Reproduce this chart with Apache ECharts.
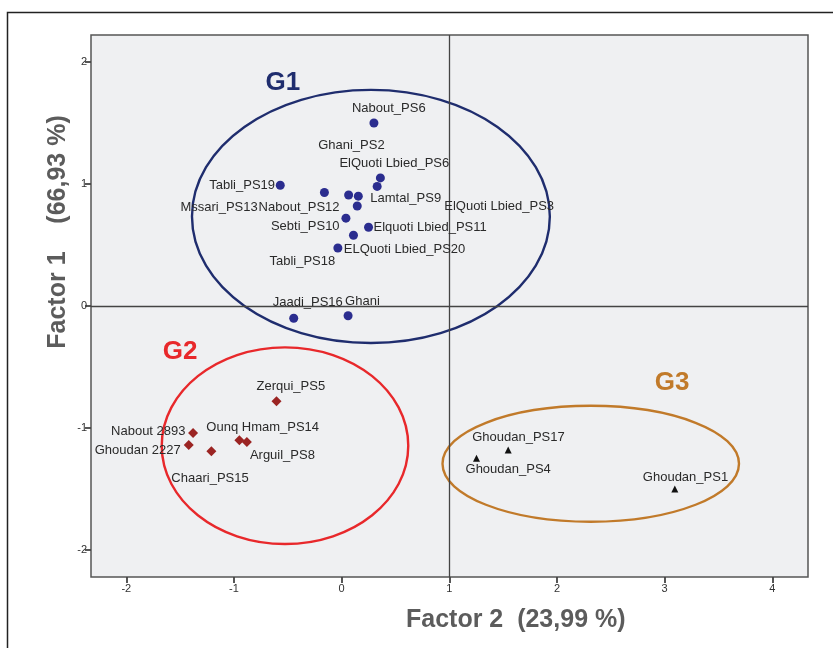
<!DOCTYPE html>
<html>
<head>
<meta charset="utf-8">
<script src="https://cdn.jsdelivr.net/npm/echarts@6/dist/echarts.min.js"></script>
<style>html,body{margin:0;padding:0;background:#fff;}#c{width:833px;height:648px;}</style>
</head>
<body>
<div id="c"></div>
<script>
// ---- data ----
const xTicks = [-2, -1, 0, 1, 2, 3, 4];
const yTicks = [-2, -1, 0, 1, 2];

const g1Names = ['Nabout_PS6','ElQuoti Lbied_PS6','Ghani_PS2','Tabli_PS19','Mssari_PS13','Nabout_PS12','Lamtal_PS9','ElQuoti Lbied_PS3','Sebti_PS10','Elquoti Lbied_PS11','Tabli_PS18','ELQuoti Lbied_PS20','Jaadi_PS16','Ghani'];
const g1X = [0.30, 0.36, 0.33, -0.57, -0.16, 0.065, 0.155, 0.145, 0.04, 0.25, 0.11, -0.035, -0.445, 0.06];
const g1Y = [1.50, 1.05, 0.98, 0.99, 0.93, 0.91, 0.90, 0.82, 0.72, 0.645, 0.58, 0.475, -0.10, -0.08];

const g2Names = ['Zerqui_PS5','Nabout 2893','Ghoudan 2227','Ounq Hmam_PS14','Arguil_PS8','Chaari_PS15'];
const g2X = [-0.605, -1.38, -1.42, -0.95, -0.88, -1.21];
const g2Y = [-0.78, -1.04, -1.14, -1.10, -1.115, -1.19];

const g3Names = ['Ghoudan_PS17','Ghoudan_PS4','Ghoudan_PS1'];
const g3X = [1.547, 1.253, 3.095];
const g3Y = [-1.18, -1.248, -1.50];

// group ellipses: centre x, centre y, radius x, radius y (data units)
const groupNames = ['G1', 'G2', 'G3'];
const ellCx = [0.272, -0.526, 2.314];
const ellCy = [0.734, -1.145, -1.293];
const ellRx = [1.662, 1.145, 1.377];
const ellRy = [1.037, 0.806, 0.475];
const groupLabelX = [-0.545, -1.50, 3.07];
const groupLabelY = [1.828, -0.377, -0.631];

// ---- label placement (pixel offsets of label's left/middle from the point) ----
const g1Off = [[-22,-15],[-41,-14],[-59,-41],[-71,0],[-144,15],[-90,12],[12,2],[87,0],[-75,8],[5,0],[-84,26],[6,1],[-21,-16],[-3,-14]];
const g2Off = [[-20,-15],[-82,-1],[-94,5],[-33,-13],[3,13],[-40,27]];
const g3Off = [[-36,-13],[-11,11],[-32,-12]];

const groupColors = ['#1f2d6e', '#e8282b', '#c17a2a'];
const pointColors = ['#2b2d8f', '#9b2423', '#111111'];

function mk(names, xs, ys, offs) {
  return names.map((n, i) => ({ name: n, value: [xs[i], ys[i]], label: { offset: offs[i] } }));
}

const labelBase = {
  show: true, formatter: '{b}', position: 'inside', align: 'left', verticalAlign: 'middle',
  fontSize: 13, color: '#2a2a2a', fontFamily: 'Liberation Sans, Arial, sans-serif'
};

const chart = echarts.init(document.getElementById('c'), null, { renderer: 'canvas' });

const option = {
  animation: false,
  backgroundColor: '#ffffff',
  grid: {
    left: 91, right: 25, top: 35, bottom: 71,
    show: true, backgroundColor: '#eff0f2', borderColor: '#555', borderWidth: 1.5
  },
  xAxis: {
    type: 'value', min: -2.328, max: 4.332,
    axisLine: { show: false, onZero: false },
    axisTick: { show: true, length: 6, lineStyle: { color: '#444', width: 1.8 }, customValues: xTicks },
    axisLabel: { color: '#333', fontSize: 11, margin: 6, fontFamily: 'Liberation Sans, Arial, sans-serif', customValues: xTicks },
    splitLine: { show: false }
  },
  yAxis: {
    type: 'value', min: -2.221, max: 2.221,
    axisLine: { show: false, onZero: false },
    axisTick: { show: true, length: 6, lineStyle: { color: '#444', width: 1.8 }, customValues: yTicks },
    axisLabel: { color: '#333', fontSize: 11, margin: 4, fontFamily: 'Liberation Sans, Arial, sans-serif', customValues: yTicks },
    splitLine: { show: false }
  },
  graphic: [
    { type: 'rect', left: 5, top: 10, shape: { x: 0, y: 0, width: 900, height: 700 },
      style: { fill: 'none', stroke: '#222', lineWidth: 1.5 }, silent: true, z: -10 },
    { type: 'text', x: 406, y: 620, style: { text: 'Factor 2  (23,99 %)', fill: '#5c5c5c',
      font: 'bold 25px "Liberation Sans", Arial, sans-serif', textAlign: 'left', textVerticalAlign: 'middle' } },
    { type: 'text', x: 58, y: 232, rotation: Math.PI / 2, style: { text: 'Factor 1    (66,93 %)', fill: '#5c5c5c',
      font: 'bold 25px "Liberation Sans", Arial, sans-serif', textAlign: 'center', textVerticalAlign: 'middle' } }
  ],
  series: [
    {
      type: 'custom', name: 'ellipses', silent: true, z: 3,
      data: groupNames.map((g, i) => [ellCx[i], ellCy[i], ellRx[i], ellRy[i], i]),
      encode: { x: 0, y: 1 },
      renderItem: function (params, api) {
        const c = api.coord([api.value(0), api.value(1)]);
        const s = api.size([api.value(2), api.value(3)]);
        const idx = api.value(4);
        return { type: 'ellipse', shape: { cx: c[0], cy: c[1], rx: s[0], ry: s[1] },
          style: { fill: 'none', stroke: groupColors[idx], lineWidth: 2.4 } };
      }
    },
    {
      type: 'custom', name: 'groupLabels', silent: true, z: 4,
      data: groupNames.map((g, i) => [groupLabelX[i], groupLabelY[i], i]),
      encode: { x: 0, y: 1 },
      renderItem: function (params, api) {
        const c = api.coord([api.value(0), api.value(1)]);
        const idx = api.value(2);
        return { type: 'text', x: c[0], y: c[1], style: { text: groupNames[idx], fill: groupColors[idx],
          font: 'bold 26px "Liberation Sans", Arial, sans-serif', textAlign: 'center', textVerticalAlign: 'middle' } };
      }
    },
    {
      type: 'scatter', name: 'G1', symbol: 'circle', symbolSize: 9, z: 5,
      itemStyle: { color: pointColors[0], opacity: 1 }, label: labelBase,
      data: mk(g1Names, g1X, g1Y, g1Off),
      markLine: {
        silent: true, symbol: ['none', 'none'], label: { show: false },
        lineStyle: { color: '#444', width: 1.3, type: 'solid' },
        data: [{ xAxis: 1 }, { yAxis: 0 }]
      }
    },
    {
      type: 'scatter', name: 'G2', symbol: 'diamond', symbolSize: 10, z: 5,
      itemStyle: { color: pointColors[1], opacity: 1 }, label: labelBase,
      data: mk(g2Names, g2X, g2Y, g2Off)
    },
    {
      type: 'scatter', name: 'G3', symbol: 'triangle', symbolSize: 7, z: 5,
      itemStyle: { color: pointColors[2], opacity: 1 }, label: labelBase,
      data: mk(g3Names, g3X, g3Y, g3Off)
    }
  ]
};
chart.setOption(option);
</script>
</body>
</html>
